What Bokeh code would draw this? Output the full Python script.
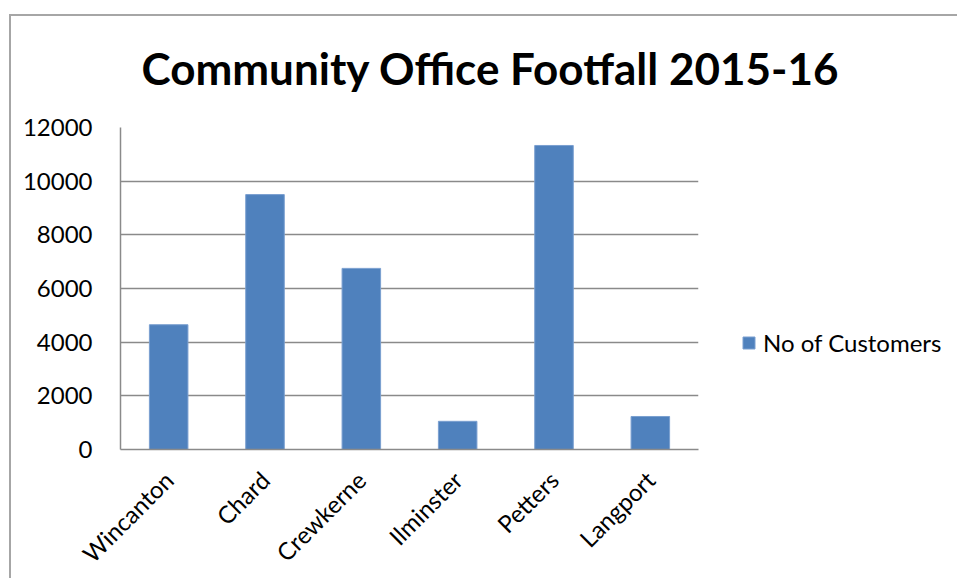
from bokeh.plotting import figure
from bokeh.models import FactorRange, Range1d, FixedTicker, Legend, LegendItem, ColumnDataSource
from bokeh.embed import file_html
from bokeh.resources import INLINE
from math import pi

title_text = "Community Office Footfall 2015-16"
series_name = "No of Customers"
towns = ["Wincanton", "Chard", "Crewkerne", "Ilminster", "Petters", "Langport"]
customers = [4650, 9500, 6750, 1050, 11330, 1230]
y_ticks = [0, 2000, 4000, 6000, 8000, 10000, 12000]

FONT = "Lato"
GRID = "#8a8a8a"
BAR = "#4F81BD"
EDGE = "#a6a6a6"

src = ColumnDataSource(dict(town=towns, customers=customers))

p = figure(
    x_range=FactorRange(factors=towns, range_padding=0),
    y_range=Range1d(0, 12000),
    frame_width=578, frame_height=322,
    min_border_left=120, min_border_right=259, min_border_top=127, min_border_bottom=129,
    output_backend="svg", toolbar_location=None,
    background_fill_color="white", border_fill_alpha=0,
    outline_line_color=None,
)
p.styles = {
    "background-color": "white",
    "background-image": f"linear-gradient({EDGE}, {EDGE}), linear-gradient({EDGE}, {EDGE})",
    "background-size": "calc(100% - 9px) 2px, 2px calc(100% - 14px)",
    "background-position": "9px 14px, 9px 14px",
    "background-repeat": "no-repeat",
}

r = p.vbar(x="town", top="customers", width=0.4, source=src,
           fill_color=BAR, line_color="#7a9fd0", line_width=1)

p.title.text = title_text
p.title.text_font = FONT
p.title.text_font_style = "bold"
p.title.text_font_size = "44px"
p.title.text_color = "black"
p.title.align = "left"
p.title.offset = 21
p.title.standoff = 68

p.yaxis.ticker = FixedTicker(ticks=y_ticks)
p.yaxis.major_tick_line_color = None
p.yaxis.minor_tick_line_color = None
p.yaxis.axis_line_color = GRID
p.yaxis.axis_line_width = 1.5
p.yaxis.major_label_standoff = 22
p.yaxis.major_label_text_font = FONT
p.yaxis.major_label_text_font_size = "24px"
p.yaxis.major_label_text_color = "black"

p.xaxis.major_tick_line_color = None
p.xaxis.minor_tick_line_color = None
p.xaxis.axis_line_color = GRID
p.xaxis.axis_line_width = 1.5
p.xaxis.major_label_orientation = pi / 4
p.xaxis.major_label_standoff = 20
p.xaxis.major_label_text_font = FONT
p.xaxis.major_label_text_font_size = "24px"
p.xaxis.major_label_text_color = "black"

p.xgrid.grid_line_color = None
p.ygrid.grid_line_color = GRID
p.ygrid.grid_line_width = 1.5

legend = Legend(items=[LegendItem(label=series_name, renderers=[r])],
                location=(43, 92), padding=0, margin=0, spacing=0,
                glyph_width=15, glyph_height=15, label_standoff=7,
                border_line_color=None, background_fill_alpha=0,
                label_text_font=FONT, label_text_font_size="24px",
                label_text_color="black")
p.add_layout(legend, "right")

open("out.html", "w").write(file_html(p, INLINE))
